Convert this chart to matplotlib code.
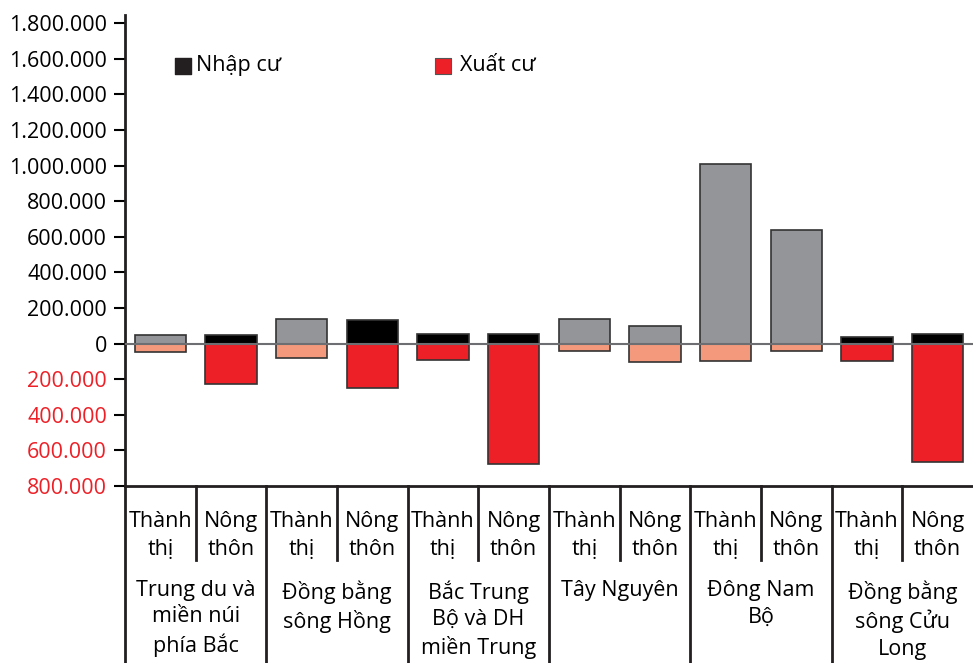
import numpy as np
import matplotlib
matplotlib.use("Agg")
import matplotlib.pyplot as plt
from matplotlib.ticker import FixedLocator

plt.rcParams['font.family'] = ['Open Sans', 'DejaVu Sans']

# Dữ liệu (người)
vung = ["Trung du và\nmiền núi\nphía Bắc", "Đồng bằng\nsông Hồng", "Bắc Trung\nBộ và DH\nmiền Trung",
        "Tây Nguyên", "Đông Nam\nBộ", "Đồng bằng\nsông Cửu\nLong"]
khu_vuc = ["Thành\nthị", "Nông\nthôn"]
nhap_cu = [50000, 50000, 140000, 135000, 55000, 55000, 140000, 97000, 1010000, 638000, 35000, 52000]
xuat_cu = [45000, 227000, 80000, 250000, 90000, 675000, 43000, 103000, 96000, 43000, 96000, 667000]
# cột tô đậm (đen / đỏ) hay nhạt (xám / cam nhạt)
to_dam = [False, True, False, True, True, True, False, False, False, False, True, True]
y_ticks = [-800000, -600000, -400000, -200000, 0, 200000, 400000, 600000, 800000,
           1000000, 1200000, 1400000, 1600000, 1800000]

mau_nhap = {False: '#939598', True: '#000000'}
mau_xuat = {False: '#f4997b', True: '#ed2027'}
mau_do = '#ed2027'
co_chu = 15.5

fig = plt.figure(figsize=(9.73, 6.63), dpi=100)
ax = fig.add_axes([0.1285, 0.267, 0.8715, 0.71])

x = np.arange(len(nhap_cu))
ax.bar(x, nhap_cu, width=0.73, color=[mau_nhap[d] for d in to_dam],
       edgecolor='#333333', linewidth=1.2, zorder=2)
ax.bar(x, [-v for v in xuat_cu], width=0.73, color=[mau_xuat[d] for d in to_dam],
       edgecolor='#333333', linewidth=1.2, zorder=2)
ax.axhline(0, color='#6d6e71', linewidth=1.5, zorder=3)

ax.set_xlim(-0.5, 11.5)
ax.set_ylim(-800000, 1845000)
ax.yaxis.set_major_locator(FixedLocator(y_ticks))
ax.set_yticklabels([f"{abs(v):,}".replace(",", ".") for v in y_ticks], fontsize=co_chu)
for v, lbl in zip(y_ticks, ax.get_yticklabels()):
    if v < 0:
        lbl.set_color(mau_do)
ax.tick_params(axis='y', length=8, width=1.5, pad=5)
ax.set_xticks([])

for s in ['top', 'right']:
    ax.spines[s].set_visible(False)
for s in ['left', 'bottom']:
    ax.spines[s].set_linewidth(2)
    ax.spines[s].set_color('#231f20')

# bảng nhãn dưới trục
trans = ax.get_xaxis_transform()
for i in range(len(x)):
    ax.text(i, -0.105, khu_vuc[i % 2], transform=trans, ha='center', va='center',
            fontsize=co_chu, linespacing=1.4)
    if i % 2 == 1:
        ax.plot([i - 0.5, i - 0.5], [0, -0.157], transform=trans, color='#231f20',
                lw=2, clip_on=False)
for g in range(len(vung)):
    ax.text(2 * g + 0.5, -0.2, vung[g], transform=trans, ha='center', va='top',
            fontsize=co_chu, linespacing=1.33)
    if g > 0:
        ax.plot([2 * g - 0.5, 2 * g - 0.5], [0, -0.38], transform=trans,
                color='#231f20', lw=2, clip_on=False)
ax.plot([-0.5, -0.5], [0, -0.38], transform=trans, color='#231f20', lw=2, clip_on=False)

# chú giải
ax.scatter([0.32], [1560000], marker='s', s=120, color='#231f20', zorder=4)
ax.text(0.50, 1560000, "Nhập cư", fontsize=co_chu, va='center')
ax.scatter([4.0], [1560000], marker='s', s=120, color=mau_do, edgecolor='#555555',
           linewidth=0.8, zorder=4)
ax.text(4.24, 1560000, "Xuất cư", fontsize=co_chu, va='center')

fig.savefig("out.png", dpi=100)
